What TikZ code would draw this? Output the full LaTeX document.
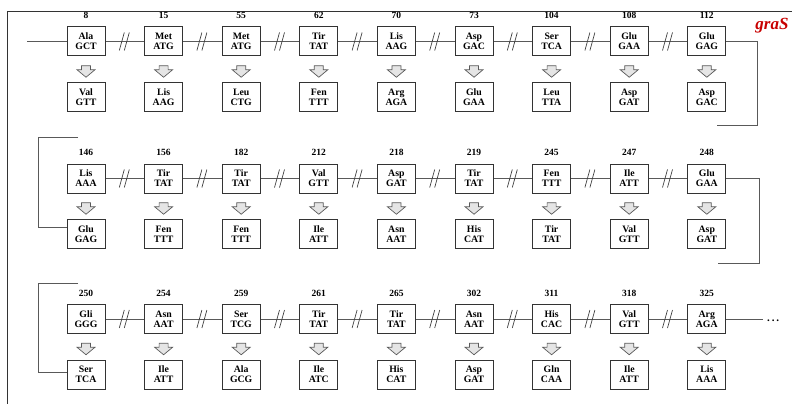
\documentclass[tikz,border=0pt]{standalone}
\usepackage{fontspec}
\setmainfont{Liberation Serif}
\usetikzlibrary{positioning}

\tikzset{
  codon/.style={draw=black!80, line width=1pt, fill=white, minimum width=38pt,
    minimum height=29pt, inner sep=1pt, align=center,
    font=\bfseries\fontsize{9.8}{10}\selectfont},
  wire/.style={draw=black!65, line width=0.9pt},
  brk/.style={draw=black!75, line width=0.7pt},
  flip/.style={draw=black!65, fill=black!10, line width=0.7pt},
  every label/.style={font=\bfseries\fontsize{9.5}{9.5}\selectfont, inner sep=0pt},
  label distance=7.5pt
}
\definecolor{genered}{RGB}{200,0,0}

\begin{document}
\begin{tikzpicture}[x=1pt, y=1pt, node distance= 77.6pt]
  \useasboundingbox (0,0) rectangle (795,-404);
  \draw[black!80, line width=0.9pt] (7,-404) |- (792,-11);
  \node (gene) at (772,-26) {\fontsize{17}{17}\selectfont\bfseries\itshape\color{genered}graS};

  % row 1: wild type codons
  \node (w1) [codon, label=above:8] at (86,-41.5) {Ala\\GCT};
  \node (w2) [codon, label=above:15, right of= w1] {Met\\ATG};
  \node (w3) [codon, label=above:55, right of= w2] {Met\\ATG};
  \node (w4) [codon, label=above:62, right of= w3] {Tir\\TAT};
  \node (w5) [codon, label=above:70, right of= w4] {Lis\\AAG};
  \node (w6) [codon, label=above:73, right of= w5] {Asp\\GAC};
  \node (w7) [codon, label=above:104, right of= w6] {Ser\\TCA};
  \node (w8) [codon, label=above:108, right of= w7] {Glu\\GAA};
  \node (w9) [codon, label=above:112, right of= w8] {Glu\\GAG};
  % row 1: mutants
  \node (m1) [codon, below=25.5pt of w1] {Val\\GTT};
  \node (m2) [codon, below=25.5pt of w2] {Lis\\AAG};
  \node (m3) [codon, below=25.5pt of w3] {Leu\\CTG};
  \node (m4) [codon, below=25.5pt of w4] {Fen\\TTT};
  \node (m5) [codon, below=25.5pt of w5] {Arg\\AGA};
  \node (m6) [codon, below=25.5pt of w6] {Glu\\GAA};
  \node (m7) [codon, below=25.5pt of w7] {Leu\\TTA};
  \node (m8) [codon, below=25.5pt of w8] {Asp\\GAT};
  \node (m9) [codon, below=25.5pt of w9] {Asp\\GAC};

  % row 2
  \node (w10) [codon, label=above:146] at (86,-178.5) {Lis\\AAA};
  \node (w11) [codon, label=above:156, right of= w10] {Tir\\TAT};
  \node (w12) [codon, label=above:182, right of= w11] {Tir\\TAT};
  \node (w13) [codon, label=above:212, right of= w12] {Val\\GTT};
  \node (w14) [codon, label=above:218, right of= w13] {Asp\\GAT};
  \node (w15) [codon, label=above:219, right of= w14] {Tir\\TAT};
  \node (w16) [codon, label=above:245, right of= w15] {Fen\\TTT};
  \node (w17) [codon, label=above:247, right of= w16] {Ile\\ATT};
  \node (w18) [codon, label=above:248, right of= w17] {Glu\\GAA};
  \node (m10) [codon, below=25.5pt of w10] {Glu\\GAG};
  \node (m11) [codon, below=25.5pt of w11] {Fen\\TTT};
  \node (m12) [codon, below=25.5pt of w12] {Fen\\TTT};
  \node (m13) [codon, below=25.5pt of w13] {Ile\\ATT};
  \node (m14) [codon, below=25.5pt of w14] {Asn\\AAT};
  \node (m15) [codon, below=25.5pt of w15] {His\\CAT};
  \node (m16) [codon, below=25.5pt of w16] {Tir\\TAT};
  \node (m17) [codon, below=25.5pt of w17] {Val\\GTT};
  \node (m18) [codon, below=25.5pt of w18] {Asp\\GAT};

  % row 3
  \node (w19) [codon, label=above:250] at (86,-319) {Gli\\GGG};
  \node (w20) [codon, label=above:254, right of= w19] {Asn\\AAT};
  \node (w21) [codon, label=above:259, right of= w20] {Ser\\TCG};
  \node (w22) [codon, label=above:261, right of= w21] {Tir\\TAT};
  \node (w23) [codon, label=above:265, right of= w22] {Tir\\TAT};
  \node (w24) [codon, label=above:302, right of= w23] {Asn\\AAT};
  \node (w25) [codon, label=above:311, right of= w24] {His\\CAC};
  \node (w26) [codon, label=above:318, right of= w25] {Val\\GTT};
  \node (w27) [codon, label=above:325, right of= w26] {Arg\\AGA};
  \node (m19) [codon, below=25.5pt of w19] {Ser\\TCA};
  \node (m20) [codon, below=25.5pt of w20] {Ile\\ATT};
  \node (m21) [codon, below=25.5pt of w21] {Ala\\GCG};
  \node (m22) [codon, below=25.5pt of w22] {Ile\\ATC};
  \node (m23) [codon, below=25.5pt of w23] {His\\CAT};
  \node (m24) [codon, below=25.5pt of w24] {Asp\\GAT};
  \node (m25) [codon, below=25.5pt of w25] {Gln\\CAA};
  \node (m26) [codon, below=25.5pt of w26] {Ile\\ATT};
  \node (m27) [codon, below=25.5pt of w27] {Lis\\AAA};

  % strand with breaks between codons
  \foreach \r in {0,9,18} {
    \foreach \k in {1,...,8} {
      \pgfmathtruncatemacro\i{\r+\k}
      \pgfmathtruncatemacro\j{\i+1}
      \draw[wire] (w\i) -- (w\j) coordinate[midway] (b\i);
      \draw[brk] (b\i) ++(-5.5,-9) -- ++(5,18) (b\i) ++(-0.5,-9) -- ++(5,18);
    }
  }

  % substitution arrows
  \foreach \i in {1,...,27} {
    \path (w\i) -- (m\i) coordinate[midway] (a\i);
    \draw[flip] (a\i) ++(-4.5,3.5) -- ++(9,0) -- ++(0,-4) -- ++(4.5,0) -- ++(-9,-7.5)
      -- ++(-9,7.5) -- ++(4.5,0) -- cycle;
  }

  % row ends and turns
  \coordinate (s1) at (27,-41.5);
  \draw[wire] (s1) -- (w1);
  \coordinate (t1) at (757,-125);
  \coordinate (u1) at (717,-125);
  \draw[wire] (w9) -| (t1) -- (u1);
  \coordinate (v2) at (78,-137);
  \coordinate (k2) at (38,-227);
  \draw[wire] (v2) -| (k2) -- (k2 -| m10.west);
  \coordinate (t2) at (759,-263);
  \coordinate (u2) at (718,-263);
  \draw[wire] (w18) -| (t2) -- (u2);
  \coordinate (v3) at (78,-283);
  \coordinate (k3) at (38,-372);
  \draw[wire] (v3) -| (k3) -- (k3 -| m19.west);
  \coordinate (t3) at (763,-319);
  \draw[wire] (w27) -- (t3);
  \node (more) [anchor=base west, inner sep=0pt] at (767,-321.5) {\bfseries\fontsize{11}{11}\selectfont .\,.\,.};
\end{tikzpicture}
\end{document}
